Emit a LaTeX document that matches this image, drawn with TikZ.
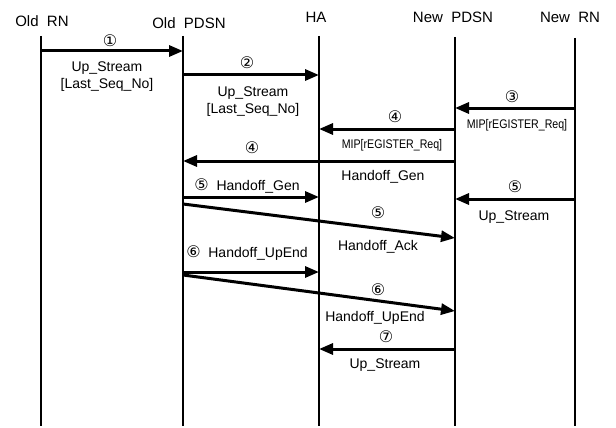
\documentclass[tikz,border=0pt]{standalone}
\usepackage{fontspec}
\setmainfont{Liberation Sans}
\newfontfamily\circfont{DejaVu Sans}
\usetikzlibrary{arrows.meta}
\newcommand{\circnum}[1]{{\circfont\fontsize{16}{16}\selectfont #1}}
\begin{document}
\begin{tikzpicture}[x=1pt,y=-1pt,
  lifeline/.style={line width=1.3pt},
  msg/.style={line width=3pt,-{Triangle[length=14pt,width=11pt]}},
  hdr/.style={font=\fontsize{15}{15}\selectfont, inner sep=0pt},
  lbl/.style={font=\fontsize{14}{15}\selectfont, inner sep=0pt, align=center},
  mip/.style={font=\fontsize{12.5}{12.5}\selectfont, inner sep=0pt, xscale=0.85},
  num/.style={font=\circfont\fontsize{16}{16}\selectfont, inner sep=0pt}
]
\useasboundingbox (0,0) rectangle (616,428);
% headers
\node[hdr] (hORN) at (42,21) {Old\ \ RN};
\node[hdr] (hOPD) at (189,23) {Old\ \ PDSN};
\node[hdr] (hHA)  at (316,17) {HA};
\node[hdr] (hNPD) at (453,17) {New\ \ PDSN};
\node[hdr] (hNRN) at (570,17) {New\ \ RN};
% lifelines
\coordinate (tORN) at (41,36);  \coordinate (bORN) at (41,426);
\coordinate (tOPD) at (183,36); \coordinate (bOPD) at (183,426);
\coordinate (tHA)  at (319,36); \coordinate (bHA)  at (319,426);
\coordinate (tNPD) at (455,37); \coordinate (bNPD) at (455,426);
\coordinate (tNRN) at (575,38); \coordinate (bNRN) at (575,426);
\foreach \n in {ORN,OPD,HA,NPD,NRN} \draw[lifeline] (t\n) -- (b\n);
% message 1
\coordinate (m1s) at (41,51); \coordinate (m1e) at (183,51);
\draw[msg] (m1s) -- (m1e);
\node[num] (n1) at (110,41) {①};
\node[lbl] (l1) at (107,77) {Up\_Stream\\[2pt][Last\_Seq\_No]};
% message 2
\coordinate (m2s) at (183,75); \coordinate (m2e) at (319,75);
\draw[msg] (m2s) -- (m2e);
\node[num] (n2) at (247,63) {②};
\node[lbl] (l2) at (253,102) {Up\_Stream\\[2pt][Last\_Seq\_No]};
% message 3
\coordinate (m3s) at (575,108); \coordinate (m3e) at (455,108);
\draw[msg] (m3s) -- (m3e);
\node[num] (n3) at (512,97) {③};
\node[mip] (l3) at (517,125) {MIP[rEGISTER\_Req]};
% message 4a
\coordinate (m4s) at (455,129); \coordinate (m4e) at (319,129);
\draw[msg] (m4s) -- (m4e);
\node[num] (n4) at (395,117) {④};
\node[mip] (l4) at (392,145) {MIP[rEGISTER\_Req]};
% message 4b
\coordinate (m4bs) at (455,161); \coordinate (m4be) at (183,161);
\draw[msg] (m4bs) -- (m4be);
\node[num] (n4b) at (252,148) {④};
\node[lbl] (l4b) at (383,177) {Handoff\_Gen};
% message 5a
\coordinate (m5s) at (183,197); \coordinate (m5e) at (319,197);
\draw[msg] (m5s) -- (m5e);
\node[lbl] (l5) at (247,186) {\circnum{⑤}\ \ Handoff\_Gen};
% message 5b
\coordinate (m5bs) at (575,199); \coordinate (m5be) at (455,199);
\draw[msg] (m5bs) -- (m5be);
\node[num] (n5b) at (515,187) {⑤};
\node[lbl] (l5b) at (514,217) {Up\_Stream};
% message 5c
\coordinate (m5cs) at (183,204); \coordinate (m5ce) at (455,238);
\draw[msg] (m5cs) -- (m5ce);
\node[num] (n5c) at (378,213) {⑤};
\node[lbl] (l5c) at (378,247) {Handoff\_Ack};
% message 6a
\coordinate (m6s) at (183,272); \coordinate (m6e) at (319,272);
\draw[msg] (m6s) -- (m6e);
\node[lbl] (l6) at (247,253) {\circnum{⑥}\ \ Handoff\_UpEnd};
% message 6b
\coordinate (m6bs) at (183,275); \coordinate (m6be) at (455,311);
\draw[msg] (m6bs) -- (m6be);
\node[num] (n6b) at (378,290) {⑥};
\node[lbl] (l6b) at (375,318) {Handoff\_UpEnd};
% message 7
\coordinate (m7s) at (455,349); \coordinate (m7e) at (319,349);
\draw[msg] (m7s) -- (m7e);
\node[num] (n7) at (386,337) {⑦};
\node[lbl] (l7) at (385,365) {Up\_Stream};
\end{tikzpicture}
\end{document}
